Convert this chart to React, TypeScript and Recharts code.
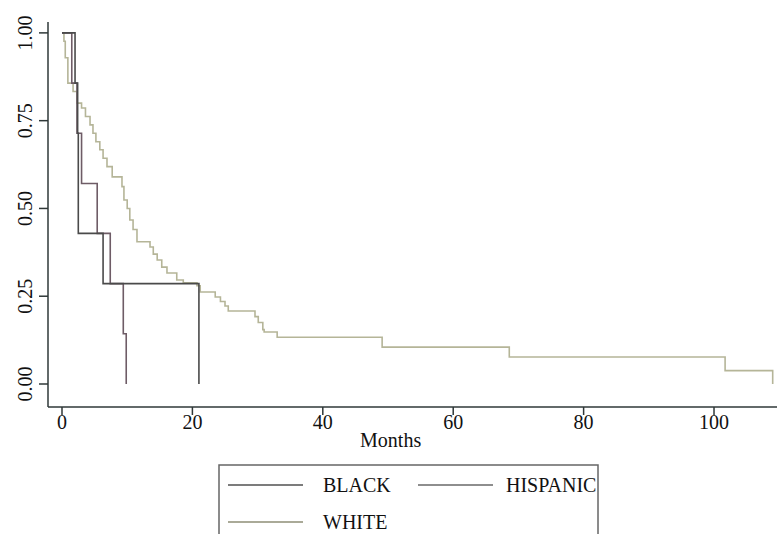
import React from 'react';
import { LineChart, Line, XAxis, YAxis, Label } from 'recharts';

// Kaplan-Meier step data (months, survival probability)
const blackTimes = [0, 2.0, 2.4, 2.5, 6.3, 21.0];
const blackSurv = [1.0, 0.857, 0.714, 0.429, 0.286, 0.0];

const hispanicTimes = [0, 1.5, 2.3, 3.0, 5.4, 7.4, 9.4, 9.85];
const hispanicSurv = [1.0, 0.857, 0.714, 0.571, 0.429, 0.286, 0.143, 0.0];

const whiteTimes = [
  0, 0.3, 0.5, 0.9, 1.7, 2.3, 3.0, 3.6, 4.3, 4.75, 5.2, 5.8, 6.3, 6.9, 7.7,
  9.2, 9.5, 10.0, 10.4, 10.9, 11.5, 13.5, 14.0, 14.6, 15.3, 16.1, 17.6, 18.6,
  20.7, 21.2, 23.5, 24.3, 25.0, 25.5, 29.6, 30.1, 30.8, 31.0, 33.0, 49.1, 68.6,
  101.7, 109.0,
];
const whiteSurv = [
  1.0, 0.976, 0.929, 0.857, 0.833, 0.8, 0.786, 0.762, 0.738, 0.714, 0.69, 0.667,
  0.643, 0.619, 0.59, 0.562, 0.524, 0.5, 0.467, 0.44, 0.405, 0.39, 0.37, 0.353,
  0.333, 0.316, 0.296, 0.288, 0.28, 0.262, 0.248, 0.235, 0.222, 0.208, 0.192,
  0.175, 0.155, 0.148, 0.133, 0.105, 0.077, 0.038, 0.0,
];

const seriesNames = ['BLACK', 'HISPANIC', 'WHITE'];
const seriesColors = ['#4a4a4a', '#6e5c66', '#b5b598'];
const legendColors = ['#7c7c7c', '#8e8e8e', '#aaaa98'];

const xTicks = [0, 20, 40, 60, 80, 100];
const yTicks = [0, 0.25, 0.5, 0.75, 1.0];

const toPoints = (times: number[], surv: number[]) =>
  times.map((t, i) => ({ t, s: surv[i] }));

const blackData = toPoints(blackTimes, blackSurv);
const hispanicData = toPoints(hispanicTimes, hispanicSurv);
const whiteData = toPoints(whiteTimes, whiteSurv);

const FONT = '"Liberation Serif", "Times New Roman", serif';
const AXIS = '#2f3838';

const YTick = (props: any) => {
  const { y, payload } = props;
  const cx = 25;
  return (
    <text
      x={cx}
      y={y}
      transform={`rotate(-90, ${cx}, ${y})`}
      textAnchor="middle"
      dominantBaseline="central"
      fontFamily={FONT}
      fontSize={20}
      fill="#111"
    >
      {Number(payload.value).toFixed(2)}
    </text>
  );
};

const XTick = (props: any) => {
  const { x, y, payload } = props;
  return (
    <text
      x={x}
      y={y}
      dy="0.71em"
      textAnchor="middle"
      fontFamily={FONT}
      fontSize={20}
      fill="#111"
    >
      {payload.value}
    </text>
  );
};

const MonthsLabel = (props: any) => {
  const vb = props.viewBox || { x: 48, y: 407, width: 729 };
  return (
    <text
      x={vb.x + vb.width * 0.47}
      y={vb.y + 40}
      textAnchor="middle"
      fontFamily={FONT}
      fontSize={20}
      fill="#111"
    >
      Months
    </text>
  );
};

const LegendBox = () => (
  <svg
    width={381}
    height={72}
    style={{ position: 'absolute', left: 218, top: 464 }}
  >
    <rect x={1} y={1} width={379} height={75} fill="#fff" stroke="#666" strokeWidth={1.5} />
    {[0, 1, 2].map((i) => {
      const col = i % 2;
      const row = Math.floor(i / 2);
      const lx = col === 0 ? 10 : 200;
      const ty = row === 0 ? 21 : 58;
      const tx = col === 0 ? 105 : 288;
      return (
        <g key={seriesNames[i]}>
          <line x1={lx} x2={lx + 75} y1={ty} y2={ty} stroke={legendColors[i]} strokeWidth={2} />
          <text
            x={tx}
            y={ty}
            dominantBaseline="central"
            fontFamily={FONT}
            fontSize={20}
            fill="#111"
          >
            {seriesNames[i]}
          </text>
        </g>
      );
    })}
  </svg>
);

export default function App() {
  return (
    <div style={{ position: 'absolute', left: 0, top: 0, width: 777, height: 534, background: '#fff' }}>
      <LineChart width={777} height={534} margin={{ top: 22, right: 0, left: 0, bottom: 0 }}>
        <XAxis
          dataKey="t"
          type="number"
          domain={[-2.147, 109.66]}
          allowDataOverflow
          ticks={xTicks}
          height={127}
          tickSize={8}
          tickMargin={0}
          stroke={AXIS}
          strokeWidth={1.5}
          tick={<XTick />}
        >
          <Label content={<MonthsLabel />} />
        </XAxis>
        <YAxis
          type="number"
          domain={[-0.0655, 1.031]}
          allowDataOverflow
          ticks={yTicks}
          width={48}
          tickSize={9}
          stroke={AXIS}
          strokeWidth={1.5}
          tick={<YTick />}
        />
        <Line
          data={whiteData}
          dataKey="s"
          name={seriesNames[2]}
          type="stepAfter"
          stroke={seriesColors[2]}
          strokeWidth={1.6}
          dot={false}
          isAnimationActive={false}
        />
        <Line
          data={hispanicData}
          dataKey="s"
          name={seriesNames[1]}
          type="stepAfter"
          stroke={seriesColors[1]}
          strokeWidth={1.6}
          dot={false}
          isAnimationActive={false}
        />
        <Line
          data={blackData}
          dataKey="s"
          name={seriesNames[0]}
          type="stepAfter"
          stroke={seriesColors[0]}
          strokeWidth={1.6}
          dot={false}
          isAnimationActive={false}
        />
      </LineChart>
      <LegendBox />
    </div>
  );
}
